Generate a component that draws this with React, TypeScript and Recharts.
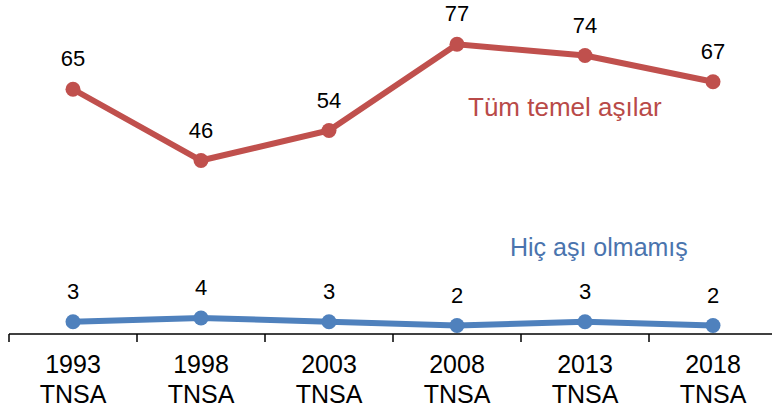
import React from 'react';
import { LineChart, Line, XAxis, YAxis, LabelList } from 'recharts';

const years = ['1993', '1998', '2003', '2008', '2013', '2018'];
const survey = 'TNSA';
const tumTemel = [65, 46, 54, 77, 74, 67];
const hicAsi = [3, 4, 3, 2, 3, 2];
const boundaryTicks = [0, 1, 2, 3, 4, 5, 6];

const data = years.map((y, i) => ({ year: y, idx: i, temel: tumTemel[i], hic: hicAsi[i] }));

const FONT = '"Liberation Sans", Arial, sans-serif';
const RED = '#C0504D';
const BLUE = '#4F81BD';

const CatTick = (props: any) => {
  const { x, y, payload } = props;
  return (
    <g>
      <text x={x} y={y + 40} textAnchor="middle" fontSize={25} fill="#000" fontFamily={FONT}>{payload.value}</text>
      <text x={x} y={y + 70} textAnchor="middle" fontSize={25} fill="#000" fontFamily={FONT}>{survey}</text>
    </g>
  );
};

const EmptyTick = () => <g />;

const ValueLabel = (props: any) => {
  const { x, y, value } = props;
  return (
    <text x={x} y={y - 23} textAnchor="middle" fontSize={22} fill="#000" fontFamily={FONT}>{value}</text>
  );
};

export default function App() {
  return (
    <div style={{ position: 'fixed', left: 0, top: 0, width: 772, height: 409, overflow: 'hidden', background: '#fff' }}>
      <LineChart width={780} height={409} data={data} margin={{ top: 33, right: 3, bottom: 16, left: 9 }}>
        <XAxis
          dataKey="year"
          scale="band"
          height={1}
          axisLine={false}
          tickLine={false}
          tickSize={0}
          tickMargin={0}
          tick={<CatTick />}
          interval={0}
        />
        <XAxis
          xAxisId="b"
          dataKey="idx"
          type="number"
          domain={[0, 6]}
          ticks={boundaryTicks}
          interval={0}
          height={59}
          tick={<EmptyTick />}
          tickSize={8}
          tickLine={{ stroke: '#000', strokeWidth: 1.5 }}
          axisLine={{ stroke: '#000', strokeWidth: 1.5 }}
          allowDataOverflow
        />
        <YAxis hide domain={[0, 80]} />
        <Line xAxisId="b" dataKey="temel" stroke="none" dot={false} legendType="none" isAnimationActive={false} />
        <Line dataKey="temel" stroke={RED} strokeWidth={6} dot={{ r: 7.5, fill: RED, stroke: RED, strokeWidth: 0 }} isAnimationActive={false}>
          <LabelList dataKey="temel" content={<ValueLabel />} />
        </Line>
        <Line dataKey="hic" stroke={BLUE} strokeWidth={6} dot={{ r: 7.5, fill: BLUE, stroke: BLUE, strokeWidth: 0 }} isAnimationActive={false}>
          <LabelList dataKey="hic" content={<ValueLabel />} />
        </Line>
      </LineChart>
      <div style={{ position: 'absolute', left: 468, top: 92, fontFamily: FONT, fontSize: 26, color: '#B94A48', whiteSpace: 'nowrap', lineHeight: '30px' }}>Tüm temel aşılar</div>
      <div style={{ position: 'absolute', left: 510, top: 233, fontFamily: FONT, fontSize: 25, color: '#4A74AE', whiteSpace: 'nowrap', lineHeight: '29px' }}>Hiç aşı olmamış</div>
    </div>
  );
}
